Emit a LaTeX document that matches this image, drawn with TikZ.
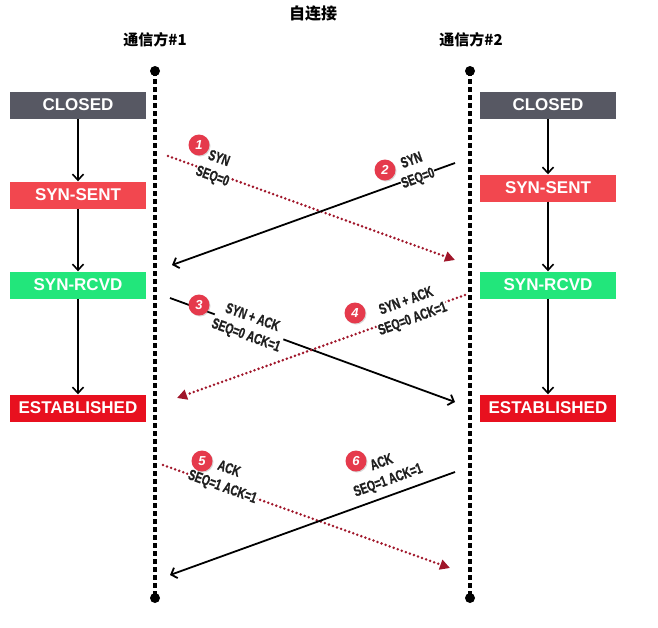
\documentclass[tikz,border=0pt]{standalone}
\usepackage{fontspec}
\setmainfont{Liberation Sans}
\newfontfamily\cjk{Noto Sans CJK SC}
\newfontfamily\cond[FakeStretch=0.7,FakeBold=0.8]{Liberation Sans}
\usetikzlibrary{arrows.meta,shadows}
\definecolor{closedgray}{HTML}{575863}
\definecolor{sentred}{HTML}{F2474F}
\definecolor{rcvdgreen}{HTML}{22E67B}
\definecolor{estred}{HTML}{E8101F}
\definecolor{dotred}{HTML}{A0162A}
\definecolor{numred}{HTML}{E53A4C}
\tikzset{
  state/.style={minimum width=136pt, minimum height=27pt, inner sep=0pt, text=white,
    font=\bfseries\fontsize{17}{17}\selectfont},
  flow/.style={-{Straight Barb[length=6pt,width=11pt]}, line width=1.6pt},
  life/.style={line width=3.2pt, dash pattern=on 5pt off 3pt},
  lifedot/.style={circle, fill=black, minimum size=10pt, inner sep=0pt},
  msgsolid/.style={line width=1.8pt, -{Straight Barb[length=5pt,width=11pt]}},
  msgdot/.style={line width=2.8pt, dotred, line cap=round, dash pattern=on 0pt off 4.3pt,
    -{Triangle[length=10pt,width=10pt]}},
  msglabel/.style={fill=white, inner sep=0.5pt, text=black!88, align=center,
    font=\cond\bfseries\fontsize{15}{19}\selectfont},
  num/.style={circle, fill=numred, minimum size=21pt, inner sep=0pt, text=white,
    font=\bfseries\itshape\fontsize{13}{13}\selectfont,
    drop shadow={opacity=0.3, shadow xshift=1pt, shadow yshift=-1pt}},
  head/.style={font=\cjk\bfseries\fontsize{15}{15}\selectfont}
}
\begin{document}
\begin{tikzpicture}[x=1pt,y=-1pt]
\useasboundingbox (0,0) rectangle (658,627);
% headings
\node[head, font=\cjk\bfseries\fontsize{16}{16}\selectfont] (title) at (313,14) {自连接};
\node[head] (p1) at (155,40) {通信方\#1};
\node[head] (p2) at (471,40) {通信方\#2};
% lifelines
\node[lifedot] (t1) at (155,71) {};
\node[lifedot] (b1) at (155,598) {};
\node[lifedot] (t2) at (470,71) {};
\node[lifedot] (b2) at (470,598) {};
\draw[life] (t1.center) -- (b1.center);
\draw[life] (t2.center) -- (b2.center);
% states left
\node[state, fill=closedgray] (c1) at (78,105) {CLOSED};
\node[state, fill=sentred] (s1) at (78,195) {SYN-SENT};
\node[state, fill=rcvdgreen] (r1) at (78,285) {SYN-RCVD};
\node[state, fill=estred] (e1) at (78,408) {ESTABLISHED};
\draw[flow] (c1) -- (s1);
\draw[flow] (s1) -- (r1);
\draw[flow] (r1) -- (e1);
% states right
\node[state, fill=closedgray] (c2) at (548,105) {CLOSED};
\node[state, fill=sentred] (s2) at (548,188) {SYN-SENT};
\node[state, fill=rcvdgreen] (r2) at (548,285) {SYN-RCVD};
\node[state, fill=estred] (e2) at (548,408) {ESTABLISHED};
\draw[flow] (c2) -- (s2);
\draw[flow] (s2) -- (r2);
\draw[flow] (r2) -- (e2);
% message end points
\coordinate (m1a) at (168,156); \coordinate (m1b) at (455,260);
\coordinate (m2a) at (455,163); \coordinate (m2b) at (172,265);
\coordinate (m3a) at (170,298); \coordinate (m3b) at (455,402);
\coordinate (m4a) at (465,295); \coordinate (m4b) at (177,398);
\coordinate (m5a) at (163,465); \coordinate (m5b) at (450,568);
\coordinate (m6a) at (455,472); \coordinate (m6b) at (170,575);
% messages
\draw[msgdot] (m1a) -- (m1b);
\draw[msgsolid] (m2a) -- (m2b);
\draw[msgsolid] (m3a) -- (m3b);
\draw[msgdot] (m4a) -- (m4b);
\draw[msgdot] (m5a) -- (m5b);
\draw[msgsolid] (m6a) -- (m6b);
% labels
\node[msglabel, rotate=-20] (l1) at (215.5,168) {SYN\\SEQ=0};
\node[msglabel, rotate=20] (l2) at (415,170) {SYN\\SEQ=0};
\node[msglabel, rotate=-20] (l3) at (249,327) {SYN + ACK\\SEQ=0 ACK=1};
\node[msglabel, rotate=20] (l4) at (409.5,310.5) {SYN + ACK\\SEQ=0 ACK=1};
\node[msglabel, rotate=-20] (l5) at (225.5,478.5) {ACK\\SEQ=1 ACK=1};
\node[msglabel, rotate=20] (l6) at (385,472) {ACK\\SEQ=1 ACK=1};
% numbers
\node[num] (n1) at (199,145) {1};
\node[num] (n2) at (385,170) {2};
\node[num] (n3) at (199,305) {3};
\node[num] (n4) at (355,313) {4};
\node[num] (n5) at (202,461) {5};
\node[num] (n6) at (356,461) {6};
\end{tikzpicture}
\end{document}
